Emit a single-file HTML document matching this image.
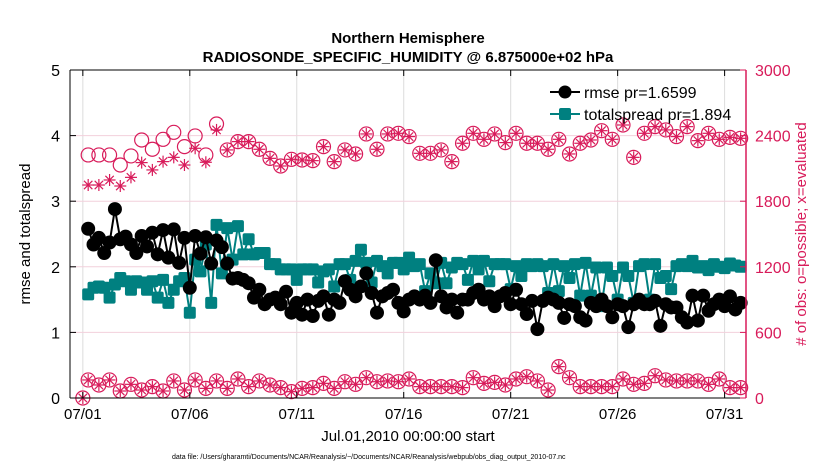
<!DOCTYPE html>
<html><head><meta charset="utf-8"><style>
body{margin:0;background:#fff;}
svg{display:block;font-family:"Liberation Sans",Arial,sans-serif;}
</style></head><body>
<svg id="chart" width="830" height="470">
<text x="408" y="43" text-anchor="middle" font-size="15" font-weight="bold">Northern Hemisphere</text>
<text x="408" y="62" text-anchor="middle" font-size="15" font-weight="bold">RADIOSONDE_SPECIFIC_HUMIDITY @ 6.875000e+02 hPa</text>
<g id="grid"></g>
<g id="marks"></g>
<g id="axes"></g>
<text transform="translate(30,234) rotate(-90)" text-anchor="middle" font-size="15">rmse and totalspread</text>
<text transform="translate(806,234) rotate(-90)" text-anchor="middle" font-size="15" fill="#d81b5a"># of obs: o=possible; x=evaluated</text>
<text x="408" y="441" text-anchor="middle" font-size="15">Jul.01,2010 00:00:00 start</text>
<text x="172" y="459" font-size="7">data file: /Users/gharamti/Documents/NCAR/Reanalysis/~/Documents/NCAR/Reanalysis/webpub/obs_diag_output_2010-07.nc</text>
<g>
<line x1="550" y1="92" x2="580" y2="92" stroke="#000" stroke-width="2"/>
<circle cx="565" cy="92" r="6.5" fill="#000"/>
<text x="584" y="98" font-size="16">rmse pr=1.6599</text>
<line x1="550" y1="114" x2="580" y2="114" stroke="#008080" stroke-width="2"/>
<rect x="559" y="108" width="12" height="12" rx="2" fill="#008080"/>
<text x="584" y="120" font-size="16">totalspread pr=1.894</text>
</g>
</svg>
<script>
const rmse=[2.58,2.34,2.44,2.21,2.37,2.88,2.42,2.46,2.34,2.21,2.47,2.31,2.52,2.19,2.56,2.14,2.57,2.06,2.44,1.68,2.47,2.2,2.45,2.05,2.4,2.3,2.05,1.82,
1.83,1.8,1.75,1.53,1.65,1.43,1.5,1.53,1.43,1.62,1.3,1.45,1.27,1.5,1.25,1.48,1.55,1.27,1.5,1.45,1.78,1.65,1.55,1.7,1.9,1.6,1.3,1.55,1.6,1.65,1.45,1.32,1.5,1.55,
1.5,1.56,1.45,2.1,1.55,1.38,1.5,1.3,1.5,1.5,1.6,1.65,1.5,1.55,1.4,1.55,1.6,1.43,1.65,1.43,1.28,1.48,1.05,1.48,1.53,1.5,1.45,1.22,1.43,1.4,1.23,
1.18,1.45,1.4,1.5,1.4,1.23,1.43,1.4,1.08,1.43,1.5,1.43,1.43,1.48,1.1,1.43,1.38,1.38,1.23,1.15,1.56,1.18,1.56,1.33,1.43,1.5,1.4,1.55,1.35,1.45];
const spread=[1.58,1.68,1.7,1.68,1.53,1.73,1.83,1.78,1.65,1.78,1.76,1.65,1.78,1.53,1.8,1.45,1.65,1.78,1.83,1.3,2.11,1.93,2.34,1.45,2.64,1.9,2.59,2.11,
2.62,2.19,2.42,2.19,2.21,2.21,2.04,2.04,1.96,1.96,1.96,1.8,1.96,1.96,1.96,1.76,1.93,1.96,1.7,2.04,2.04,1.8,2.09,2.26,2.06,1.76,2.09,2.01,1.9,2.06,2.06,1.96,2.14,2.01,
2.04,1.63,1.9,1.75,2.06,1.75,1.99,2.06,2.04,1.8,2.09,1.96,2.09,1.78,2.04,2.04,2.04,1.66,2.01,1.86,2.04,2.01,2.04,2.01,1.6,2.04,1.63,2.01,1.83,2.04,1.56,
2.06,1.56,1.99,1.4,1.99,1.86,1.5,1.99,1.86,1.45,2.01,2.04,1.5,2.04,1.83,1.86,1.66,2.01,2.04,2.01,2.09,1.99,2.01,1.95,2.04,2.0,1.98,2.05,2.02,2.0];
const obsPossibleHigh=[2223,2223,2223,2131,2214,2360,2275,2366,2430,2299,2397,2223,2506,2269,2345,2345,2275,2192,2122,2183,2177,2171,2299,2162,2269,2232,2415,2275,2415,2421,2391,2238,2238,2269,2162,2330,2421,2366,2415,2336,2421,2330,2330,2275,2366,2232,2330,2360,2445,2366,2497,2201,2421,2482,2452,2391,2482,2354,2421,2366,2384,2375];
const obsEvalHigh=[1948,1948,1994,1939,2018,2153,2086,2162,2201,2131,2284,2156,2452,2269,2345,2345,2275,2192,2122,2183,2177,2171,2299,2162,2269,2232,2415,2275,2415,2421,2391,2238,2238,2269,2162,2330,2421,2366,2415,2336,2421,2330,2330,2275,2366,2232,2330,2360,2445,2366,2497,2201,2421,2482,2452,2391,2482,2354,2421,2366,2384,2375];
const obsLow=[165,119,165,64,125,73,104,64,156,73,165,88,156,88,174,104,156,119,95,58,88,95,134,88,149,125,186,149,156,149,174,104,104,104,104,95,186,134,143,119,174,195,156,73,287,186,104,104,104,104,174,125,134,204,165,156,156,156,125,174,95,95];
const xTickLabels=["07/01","07/06","07/11","07/16","07/21","07/26","07/31"];
const xTickDays=[0,5,10,15,20,25,30];
const leftTicks=[0,1,2,3,4,5];
const rightTicks=[0,600,1200,1800,2400,3000];

const NS="http://www.w3.org/2000/svg";
const X0=70,X1=746,Y0=398,Y1=70,TMIN=-0.6,TMAX=31.0;
const xS=t=>X0+(t-TMIN)/(TMAX-TMIN)*(X1-X0);
const yL=v=>Y0-v/5*(Y0-Y1);
const yR=v=>Y0-v/3000*(Y0-Y1);
const CR="#d81b5a",TE="#008080";
function mk(tag,attrs,parent){const e=document.createElementNS(NS,tag);for(const k in attrs)e.setAttribute(k,attrs[k]);parent.appendChild(e);return e;}
const grid=document.getElementById('grid'),marks=document.getElementById('marks'),axes=document.getElementById('axes');

xTickDays.forEach(d=>{mk('line',{x1:xS(d),x2:xS(d),y1:Y1,y2:Y0,stroke:'#dcdcdc','stroke-width':1},grid);});
leftTicks.forEach(v=>{if(v>0&&v<5)mk('line',{x1:X0,x2:X1,y1:yL(v),y2:yL(v),stroke:'#f2d0dc','stroke-width':1},grid);});

// obs markers
function star(cx,cy,g){const r=6;[[0,1],[1,0],[0.7,0.7],[0.7,-0.7]].forEach(([a,b])=>mk('line',{x1:cx-r*a,y1:cy-r*b,x2:cx+r*a,y2:cy+r*b,stroke:CR,'stroke-width':1.2},g));}
const obsG=mk('g',{},marks);


obsPossibleHigh.forEach((v,i)=>{const x=xS(0.25+0.5*i);
 const c=mk('circle',{cx:x,cy:yR(v),r:7,fill:'none',stroke:CR,'stroke-width':1.2},obsG);
 
 
 star(x,yR(obsEvalHigh[i]),obsG);});
{const c=mk('circle',{cx:xS(0),cy:yR(0),r:7,fill:'none',stroke:CR,'stroke-width':1.2},obsG);star(xS(0),yR(0),obsG);}
obsLow.forEach((v,i)=>{const x=xS(0.25+0.5*i);
 const c=mk('circle',{cx:x,cy:yR(v),r:7,fill:'none',stroke:CR,'stroke-width':1.2},obsG);
 
 
 star(x,yR(v),obsG);});

function series(arr,color,isCircle,name){
 const g=mk('g',{},marks);
 
 
 const pts=arr.map((v,i)=>xS(0.25+0.25*i).toFixed(1)+','+yL(v).toFixed(1)).join(' ');
 mk('polyline',{points:pts,fill:'none',stroke:color,'stroke-width':2,'stroke-linejoin':'round'},g);
 arr.forEach((v,i)=>{const x=xS(0.25+0.25*i),y=yL(v);let m;
  if(isCircle)m=mk('circle',{cx:x,cy:y,r:7,fill:color},g);
  else m=mk('rect',{x:x-6,y:y-6,width:12,height:12,rx:2,fill:color},g);
  
  });
}
series(spread,TE,false,'totalspread-series');
series(rmse,'#000',true,'rmse-series');

// axes
mk('line',{x1:X0,x2:X1,y1:Y1,y2:Y1,stroke:'#000','stroke-width':1},axes);
mk('line',{x1:X0,x2:X1,y1:Y0,y2:Y0,stroke:'#000','stroke-width':1},axes);
mk('line',{x1:X0,x2:X0,y1:Y1,y2:Y0,stroke:'#000','stroke-width':1},axes);
mk('line',{x1:X1,x2:X1,y1:Y1,y2:Y0,stroke:CR,'stroke-width':1.5},axes);
xTickDays.forEach((d,i)=>{const x=xS(d);
 mk('line',{x1:x,x2:x,y1:Y0,y2:Y0-6,stroke:'#000'},axes);
 mk('line',{x1:x,x2:x,y1:Y1,y2:Y1+6,stroke:'#000'},axes);
 const t=mk('text',{x:x,y:Y0+21,'text-anchor':'middle','font-size':15},axes);t.textContent=xTickLabels[i];
 
 });
leftTicks.forEach(v=>{const y=yL(v);
 mk('line',{x1:X0,x2:X0+6,y1:y,y2:y,stroke:'#000'},axes);
 const t=mk('text',{x:X0-10,y:y+6,'text-anchor':'end','font-size':16},axes);t.textContent=v;
 
 });
rightTicks.forEach(v=>{const y=yR(v);
 mk('line',{x1:X1-6,x2:X1,y1:y,y2:y,stroke:CR},axes);
 const t=mk('text',{x:X1+9,y:y+6,'font-size':16,fill:CR},axes);t.textContent=v;
 
 });
</script>
</body></html>
